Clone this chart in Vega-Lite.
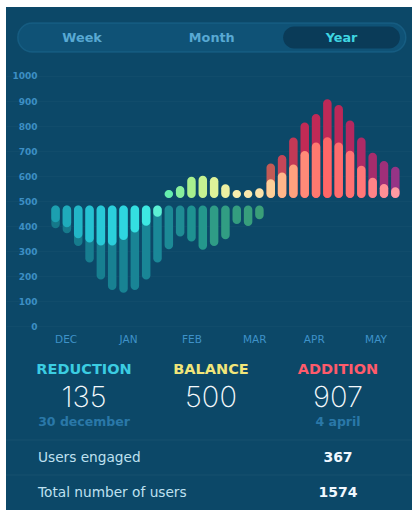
{
  "$schema": "https://vega.github.io/schema/vega-lite/v6.json",
  "background": "white",
  "padding": {"left": 5, "top": 7, "right": 0, "bottom": 0},
  "spacing": 0,
  "config": {"view": {"fill": "#0c4868", "stroke": null}},
  "resolve": {"scale": {"color": "independent", "x": "independent", "y": "independent"}},
  "datasets": {
    "tabs": [
      {"tab": "Week", "state": "off"},
      {"tab": "Month", "state": "off"},
      {"tab": "Year", "state": "on"}
    ],
    "bars": [
      {"i": 0, "kind": "downDim", "v": 392}, {"i": 1, "kind": "downDim", "v": 372}, {"i": 2, "kind": "downDim", "v": 321},
      {"i": 3, "kind": "downDim", "v": 255}, {"i": 4, "kind": "downDim", "v": 188}, {"i": 5, "kind": "downDim", "v": 146},
      {"i": 6, "kind": "downDim", "v": 135}, {"i": 7, "kind": "downDim", "v": 146}, {"i": 8, "kind": "downDim", "v": 188},
      {"i": 9, "kind": "downDim", "v": 255}, {"i": 10, "kind": "downDim", "v": 308}, {"i": 11, "kind": "downDim", "v": 359},
      {"i": 12, "kind": "downDim", "v": 339}, {"i": 13, "kind": "downDim", "v": 306}, {"i": 14, "kind": "downDim", "v": 321},
      {"i": 15, "kind": "downDim", "v": 348}, {"i": 16, "kind": "downDim", "v": 409}, {"i": 17, "kind": "downDim", "v": 401},
      {"i": 18, "kind": "downDim", "v": 428},
      {"i": 0, "kind": "down", "v": 416}, {"i": 1, "kind": "down", "v": 396}, {"i": 2, "kind": "down", "v": 352},
      {"i": 3, "kind": "down", "v": 335}, {"i": 4, "kind": "down", "v": 323}, {"i": 5, "kind": "down", "v": 323},
      {"i": 6, "kind": "down", "v": 345}, {"i": 7, "kind": "down", "v": 375}, {"i": 8, "kind": "down", "v": 402},
      {"i": 9, "kind": "down", "v": 438},
      {"i": 19, "kind": "upDim", "v": 651}, {"i": 20, "kind": "upDim", "v": 685}, {"i": 21, "kind": "upDim", "v": 754},
      {"i": 22, "kind": "upDim", "v": 814}, {"i": 23, "kind": "upDim", "v": 848}, {"i": 24, "kind": "upDim", "v": 907},
      {"i": 25, "kind": "upDim", "v": 884}, {"i": 26, "kind": "upDim", "v": 822}, {"i": 27, "kind": "upDim", "v": 754},
      {"i": 28, "kind": "upDim", "v": 694}, {"i": 29, "kind": "upDim", "v": 661}, {"i": 30, "kind": "upDim", "v": 638},
      {"i": 10, "kind": "up", "v": 545}, {"i": 11, "kind": "up", "v": 561}, {"i": 12, "kind": "up", "v": 598},
      {"i": 13, "kind": "up", "v": 602}, {"i": 14, "kind": "up", "v": 597}, {"i": 15, "kind": "up", "v": 568},
      {"i": 16, "kind": "up", "v": 545}, {"i": 17, "kind": "up", "v": 545}, {"i": 18, "kind": "up", "v": 552},
      {"i": 19, "kind": "up", "v": 588}, {"i": 20, "kind": "up", "v": 615}, {"i": 21, "kind": "up", "v": 647},
      {"i": 22, "kind": "up", "v": 701}, {"i": 23, "kind": "up", "v": 735}, {"i": 24, "kind": "up", "v": 755},
      {"i": 25, "kind": "up", "v": 735}, {"i": 26, "kind": "up", "v": 702}, {"i": 27, "kind": "up", "v": 642},
      {"i": 28, "kind": "up", "v": 594}, {"i": 29, "kind": "up", "v": 569}, {"i": 30, "kind": "up", "v": 556}
    ],
    "stats": [
      {"role": "header", "col": "reduction", "row": "h", "text": "REDUCTION"},
      {"role": "header", "col": "balance", "row": "h", "text": "BALANCE"},
      {"role": "header", "col": "addition", "row": "h", "text": "ADDITION"},
      {"role": "value", "col": "reduction", "row": "v", "text": "135"},
      {"role": "value", "col": "balance", "row": "v", "text": "500"},
      {"role": "value", "col": "addition", "row": "v", "text": "907"},
      {"role": "date", "col": "reduction", "row": "d", "text": "30 december"},
      {"role": "date", "col": "addition", "row": "d", "text": "4 april"},
      {"role": "sep", "col": "reduction", "row": "s1", "text": ""},
      {"role": "label", "col": "reduction", "row": "u", "text": "Users engaged"},
      {"role": "stat", "col": "addition", "row": "u", "text": "367"},
      {"role": "sep", "col": "reduction", "row": "s2", "text": ""},
      {"role": "label", "col": "reduction", "row": "t", "text": "Total number of users"},
      {"role": "stat", "col": "addition", "row": "t", "text": "1574"}
    ]
  },
  "vconcat": [
    {
      "width": 407,
      "height": 61,
      "data": {"name": "tabs"},
      "encoding": {
        "x": {"field": "tab", "type": "nominal", "sort": null, "axis": null,
              "scale": {"domain": ["Week", "Month", "Year"], "range": [11.2, 400.4], "paddingInner": 0, "paddingOuter": 0}}
      },
      "layer": [
        {
          "transform": [{"filter": "datum.tab === 'Month'"}],
          "mark": {"type": "bar", "width": 388, "cornerRadius": 14.5, "fill": "#0f5276", "stroke": "#1c678d", "strokeWidth": 1.5, "strokeOpacity": 0.6},
          "encoding": {"y": {"datum": "pill", "type": "nominal", "axis": null, "scale": {"paddingOuter": 0.552, "paddingInner": 0}}}
        },
        {
          "transform": [{"filter": "datum.state === 'on'"}],
          "mark": {"type": "bar", "width": {"band": 0.9}, "height": {"band": 0.76}, "cornerRadius": 11, "fill": "#0a3b58"},
          "encoding": {"y": {"datum": "pill", "type": "nominal", "axis": null}}
        },
        {
          "mark": {"type": "text", "font": "DejaVu Sans", "fontWeight": "bold", "fontSize": 12.8, "baseline": "middle"},
          "encoding": {
            "text": {"field": "tab"},
            "color": {"field": "state", "type": "nominal", "legend": null,
                      "scale": {"domain": ["off", "on"], "range": ["#58a9d3", "#3fd6e2"]}}
          }
        }
      ]
    },
    {
      "width": 407,
      "height": 284,
      "data": {"name": "bars"},
      "encoding": {
        "x": {"field": "i", "type": "quantitative",
              "scale": {"domain": [-3.936, 31.12], "nice": false, "zero": false},
              "axis": {"values": [0.89, 6.4, 12.0, 17.55, 22.8, 28.25], "title": null, "offset": -13, "ticks": false, "domain": false, "grid": false,
                       "labelPadding": 0, "labelBaseline": "middle", "labelFont": "DejaVu Sans", "labelFontSize": 10.5, "labelColor": "#3f92c8",
                       "labelFlush": false, "labelOverlap": false,
                       "labelExpr": "datum.value < 3 ? 'DEC' : datum.value < 9 ? 'JAN' : datum.value < 15 ? 'FEB' : datum.value < 20 ? 'MAR' : datum.value < 25 ? 'APR' : 'MAY'"}},
        "y": {"field": "v", "type": "quantitative",
              "scale": {"domain": [-101.8, 1031.9], "nice": false, "zero": false},
              "axis": {"values": [0, 100, 200, 300, 400, 500, 600, 700, 800, 900, 1000], "format": "d", "title": null, "offset": -31, "ticks": false, "domain": false,
                       "labelPadding": 0, "labelBaseline": "middle", "labelFont": "DejaVu Sans", "labelFontWeight": "bold", "labelFontSize": 9,
                       "labelColor": "#3d8fc4", "grid": true, "gridColor": "#ffffff", "gridOpacity": 0.025}}
      },
      "layer": [
        {
          "transform": [{"filter": "datum.kind === 'downDim'"}],
          "mark": {"type": "bar", "width": 8.5, "cornerRadius": 4.25},
          "encoding": {
            "y2": {"datum": 483},
            "color": {"field": "i", "type": "quantitative", "legend": null,
                      "scale": {"domain": [0, 9, 11, 14, 18], "range": ["#15788a", "#1a8898", "#1f8c94", "#2f9c86", "#3a9e78"]}}
          }
        },
        {
          "transform": [{"filter": "datum.kind === 'down'"}],
          "mark": {"type": "bar", "width": 8.5, "cornerRadius": 4.25},
          "encoding": {
            "y2": {"datum": 483},
            "color": {"field": "i", "type": "quantitative", "legend": null,
                      "scale": {"domain": [0, 3, 6, 8, 9], "range": ["#1c9fb0", "#25c2d2", "#2ed6e0", "#3de8e2", "#5cf0d4"]}}
          }
        },
        {
          "transform": [{"filter": "datum.kind === 'upDim'"}],
          "mark": {"type": "bar", "width": 8.5, "cornerRadius": 4.25},
          "encoding": {
            "y2": {"datum": 513},
            "color": {"field": "i", "type": "quantitative", "legend": null,
                      "scale": {"domain": [19, 20, 22, 25, 28, 30], "range": ["#c25a55", "#c44658", "#c22a55", "#bb2858", "#a62c6c", "#963486"]}}
          }
        },
        {
          "transform": [{"filter": "datum.kind === 'up'"}],
          "mark": {"type": "bar", "width": 8.5, "cornerRadius": 4.25},
          "encoding": {
            "y2": {"datum": 513},
            "color": {"field": "i", "type": "quantitative", "legend": null,
                      "scale": {"domain": [10, 12, 14, 16, 18, 19, 20, 22, 24, 27, 30],
                                "range": ["#66eeae", "#a8f08e", "#def399", "#f8eeae", "#fbe3aa", "#fdcf98", "#ffb68a", "#ff8a78", "#ff6767", "#ff7878", "#ff9aa2"]}}
          }
        }
      ],
      "resolve": {"scale": {"color": "independent"}}
    },
    {
      "width": 407,
      "height": 158,
      "data": {"name": "stats"},
      "encoding": {
        "x": {"field": "col", "type": "nominal", "axis": null,
              "scale": {"domain": ["reduction", "balance", "addition"], "range": [14.5, 395.5], "paddingInner": 0, "paddingOuter": 0}},
        "y": {"field": "row", "type": "nominal", "axis": null,
              "scale": {"type": "point", "domain": ["h", "v", "d", "s1", "u", "s2", "t"], "range": [35.5, 140.5], "padding": 0}}
      },
      "layer": [
        {
          "transform": [{"filter": "datum.role === 'sep'"}],
          "mark": {"type": "rule", "color": "#ffffff", "opacity": 0.05, "strokeWidth": 1},
          "encoding": {"x": null}
        },
        {
          "transform": [{"filter": "datum.role === 'header'"}],
          "mark": {"type": "text", "font": "DejaVu Sans", "fontWeight": "bold", "fontSize": 14.5, "baseline": "middle", "dy": -17.5},
          "encoding": {
            "text": {"field": "text"},
            "color": {"field": "col", "type": "nominal", "legend": null,
                      "scale": {"domain": ["reduction", "balance", "addition"], "range": ["#3bcde2", "#f1e67a", "#ff5b6b"]}}
          }
        },
        {
          "transform": [{"filter": "datum.role === 'value'"}],
          "mark": {"type": "text", "font": "Inter", "fontWeight": 200, "fontSize": 29, "baseline": "middle", "dy": -7.3, "color": "#f4f9fc"},
          "encoding": {"text": {"field": "text"}}
        },
        {
          "transform": [{"filter": "datum.role === 'date'"}],
          "mark": {"type": "text", "font": "DejaVu Sans", "fontWeight": "bold", "fontSize": 12.5, "baseline": "middle", "dy": -0.5, "color": "#2a78a8"},
          "encoding": {"text": {"field": "text"}}
        },
        {
          "transform": [{"filter": "datum.role === 'label'"}],
          "mark": {"type": "text", "font": "DejaVu Sans", "fontSize": 13.7, "baseline": "middle", "align": "left", "dx": -46, "dy": 0, "color": "#bfe0f0"},
          "encoding": {"text": {"field": "text"}}
        },
        {
          "transform": [{"filter": "datum.role === 'stat'"}],
          "mark": {"type": "text", "font": "DejaVu Sans", "fontWeight": "bold", "fontSize": 14, "baseline": "middle", "color": "#f0f8ff"},
          "encoding": {"text": {"field": "text"}}
        }
      ]
    }
  ]
}
